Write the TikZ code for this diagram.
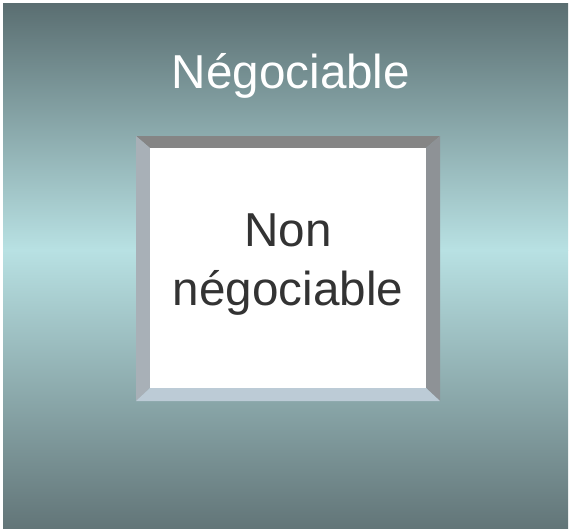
\documentclass[tikz,border=0pt]{standalone}
\usepackage{fontspec}
\setmainfont{Liberation Sans}
\usepackage{xcolor}
\usepackage{tikz}

\definecolor{slatedark}{HTML}{5A6E71}
\definecolor{slatelight}{HTML}{B8E1E3}
\definecolor{bevtop}{HTML}{858585}
\definecolor{bevleft}{HTML}{A8B0B7}
\definecolor{bevright}{HTML}{8E9296}
\definecolor{bevbottom}{HTML}{BCCBD6}
\definecolor{inktext}{HTML}{333333}

\tikzset{
  bigtext/.style={font=\fontsize{47.6}{59.5}\selectfont, inner sep=0pt, align=center}
}

\begin{document}
\begin{tikzpicture}[x=1pt, y=-1pt]
  \useasboundingbox (0,0) rectangle (571,531);
  \fill[white] (0,0) rectangle (571,531);
  %% backdrop: dark at the edges, light in the middle
  \begin{scope}[y=1pt]
    \shade[top color=slatedark, bottom color=slatelight] (3,-3) rectangle (568,-250);
    \shade[top color=slatelight, bottom color=slatedark!95!white] (3,-250) rectangle (568,-528);
  \end{scope}
  %% bevelled frame
  \coordinate (otl) at (136,136);
  \coordinate (otr) at (440,136);
  \coordinate (obl) at (136,401);
  \coordinate (obr) at (440,401);
  \coordinate (itl) at (150,148);
  \coordinate (itr) at (426,148);
  \coordinate (ibl) at (150,388);
  \coordinate (ibr) at (426,388);
  \fill[bevtop] (otl) -- (otr) -- (itr) -- (itl) -- cycle;
  \fill[bevleft] (otl) -- (itl) -- (ibl) -- (obl) -- cycle;
  \fill[bevright] (otr) -- (obr) -- (ibr) -- (itr) -- cycle;
  \fill[bevbottom] (obl) -- (ibl) -- (ibr) -- (obr) -- cycle;
  \fill[white] (itl) rectangle (ibr);
  %% labels
  \node[bigtext, white, anchor=base] (outer) at (291,88) {Négociable};
  \node[bigtext, inktext, anchor=base] (innerA) at (288,246) {Non};
  \node[bigtext, inktext, anchor=base] (innerB) at (288,305) {négociable};
\end{tikzpicture}
\end{document}
